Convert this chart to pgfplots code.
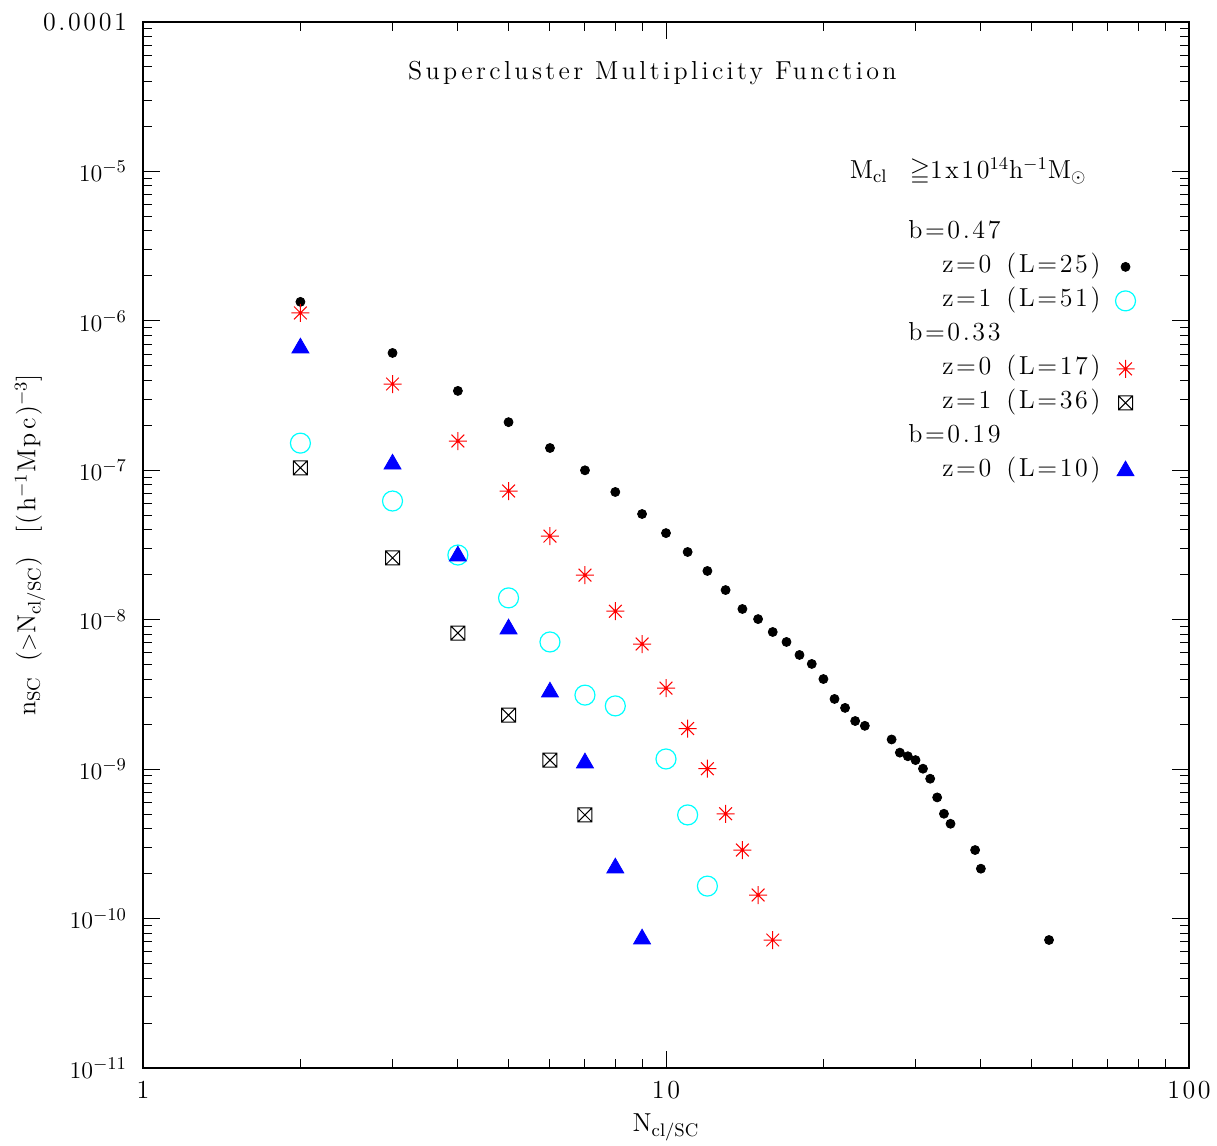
\documentclass[border=0pt]{standalone}
\usepackage{amssymb}
\usepackage{fontspec}
\usepackage{pgfplots}
\pgfplotsset{compat=1.18}
\newfontfamily\lmsp{lmroman12-regular.otf}[LetterSpace=10]
\newfontfamily\lmspt{lmroman12-regular.otf}[LetterSpace=13]
\definecolor{pcyan}{RGB}{0,255,255}
\definecolor{pred}{RGB}{255,0,0}
\definecolor{pblue}{RGB}{0,0,255}
\pgfdeclareplotmark{boxx}{%
  \pgfpathrectangle{\pgfpoint{-\pgfplotmarksize}{-\pgfplotmarksize}}{\pgfpoint{2\pgfplotmarksize}{2\pgfplotmarksize}}%
  \pgfpathmoveto{\pgfpoint{-\pgfplotmarksize}{-\pgfplotmarksize}}\pgfpathlineto{\pgfpoint{\pgfplotmarksize}{\pgfplotmarksize}}%
  \pgfpathmoveto{\pgfpoint{-\pgfplotmarksize}{\pgfplotmarksize}}\pgfpathlineto{\pgfpoint{\pgfplotmarksize}{-\pgfplotmarksize}}%
  \pgfusepathqstroke}
\pgfdeclareplotmark{ast8}{%
  \pgfpathmoveto{\pgfpoint{0pt}{\pgfplotmarksize}}\pgfpathlineto{\pgfpoint{0pt}{-\pgfplotmarksize}}%
  \pgfpathmoveto{\pgfpoint{\pgfplotmarksize}{0pt}}\pgfpathlineto{\pgfpoint{-\pgfplotmarksize}{0pt}}%
  \pgfpathmoveto{\pgfpointpolar{45}{\pgfplotmarksize}}\pgfpathlineto{\pgfpointpolar{225}{\pgfplotmarksize}}%
  \pgfpathmoveto{\pgfpointpolar{135}{\pgfplotmarksize}}\pgfpathlineto{\pgfpointpolar{315}{\pgfplotmarksize}}%
  \pgfusepathqstroke}
\newcommand{\tf}{\fontsize{13}{16}\lmsp}
\newcommand{\zi}{\hspace*{17pt}}
\newcommand{\zs}{\ \hspace{2pt}}
\begin{document}
\begin{tikzpicture}
\begin{axis}[
  scale only axis, width=523pt, height=523pt,
  xmode=log, ymode=log,
  xmin=1, xmax=100, ymin=1e-11, ymax=1e-4,
  xtick={1,10,100}, xticklabels={1,10,100},
  ytick={1e-11,1e-10,1e-9,1e-8,1e-7,1e-6,1e-5,1e-4},
  yticklabels={$10^{-11}$,$10^{-10}$,$10^{-9}$,$10^{-8}$,$10^{-7}$,$10^{-6}$,$10^{-5}$,0.0001},
  axis line style={line width=1pt},
  tick style={line width=0.5pt, black},
  major tick length=8.5pt, minor tick length=4.5pt,
  font=\tf,
  yticklabel style={xshift=-4.5pt},
  xticklabel style={yshift=-3pt},
  xlabel={N$_{\mathrm{cl/SC}}$},
  ylabel={n$_{\mathrm{SC}}$\ \hspace{2pt}($>$N$_{\mathrm{cl/SC}}$)\ \hspace{6pt}[(h$^{-1}$Mpc)$^{-3}$]},
  xlabel style={at={(axis description cs:0.5,-0.057)}, anchor=center},
  ylabel style={at={(axis description cs:-0.108,0.5)}, anchor=center},
  legend plot pos=right,
  legend style={draw=none, fill=none, at={(rel axis cs:0.955,0.816)}, anchor=north east,
    cells={anchor=west}, font=\tf, row sep=3pt,
    nodes={inner sep=0pt, text height=10pt, text depth=4pt}},
]
\addlegendimage{empty legend}\addlegendentry{b=0.47}
\addplot[only marks, mark=*, mark size=2.25pt, black] coordinates {
(2,1.34e-6) (3,6.1e-7) (4,3.40e-7) (5,2.10e-7) (6,1.41e-7) (7,1.00e-7) (8,7.16e-8) (9,5.10e-8)
(10,3.80e-8) (11,2.84e-8) (12,2.12e-8) (13,1.58e-8) (14,1.18e-8) (15,1.01e-8) (16,8.28e-9)
(17,7.10e-9) (18,5.81e-9) (19,5.06e-9) (20,4.01e-9) (21,2.95e-9) (22,2.57e-9) (23,2.10e-9)
(24,1.95e-9) (27,1.58e-9) (28,1.29e-9) (29,1.22e-9) (30,1.15e-9) (31,1.007e-9) (32,8.63e-10)
(33,6.47e-10) (34,5.03e-10) (35,4.31e-10) (39,2.876e-10) (40,2.157e-10) (54,7.19e-11)};
\addlegendentry{\zi z=0\zs(L=25)\hspace*{4pt}}
\addplot[only marks, mark=o, mark size=5pt, pcyan, line width=0.6pt] coordinates {
(2,1.52e-7) (3,6.23e-8) (4,2.71e-8) (5,1.40e-8) (6,7.10e-9) (7,3.13e-9) (8,2.65e-9)
(10,1.17e-9) (11,4.94e-10) (12,1.65e-10)};
\addlegendentry{\zi z=1\zs(L=51)\hspace*{4pt}}
\addlegendimage{empty legend}\addlegendentry{b=0.33}
\addplot[only marks, mark=ast8, mark size=4.5pt, pred, line width=0.5pt] coordinates {
(2,1.13e-6) (3,3.78e-7) (4,1.57e-7) (5,7.27e-8) (6,3.63e-8) (7,1.99e-8) (8,1.14e-8)
(9,6.88e-9) (10,3.49e-9) (11,1.87e-9) (12,1.007e-9) (13,5.03e-10) (14,2.876e-10)
(15,1.438e-10) (16,7.19e-11)};
\addlegendentry{\zi z=0\zs(L=17)\hspace*{4pt}}
\addplot[only marks, mark=boxx, mark size=3.5pt, black, line width=0.5pt] coordinates {
(2,1.04e-7) (3,2.59e-8) (4,8.15e-9) (5,2.30e-9) (6,1.15e-9) (7,4.94e-10)};
\addlegendentry{\zi z=1\zs(L=36)\hspace*{4pt}}
\addlegendimage{empty legend}\addlegendentry{b=0.19}
\addplot[only marks, mark=triangle*, mark size=4.9pt, pblue] coordinates {
(2,6.58e-7) (3,1.10e-7) (4,2.67e-8) (5,8.67e-9) (6,3.28e-9) (7,1.10e-9) (8,2.18e-10) (9,7.30e-11)};
\addlegendentry{\zi z=0\zs(L=10)\hspace*{4pt}}
\node[anchor=center, font=\fontsize{13}{16}\lmspt] at (rel axis cs:0.487,0.951) {Supercluster Multiplicity Function};
\node[anchor=west] at (rel axis cs:0.669,0.857) {M$_{\mathrm{cl}}$\ \ $\geqq$1x10$^{14}$h$^{-1}$M$_\odot$};
\end{axis}
\pgfresetboundingbox
\path[use as bounding box] ([xshift=-71.5pt,yshift=-39pt]current axis.south west) rectangle ([xshift=14pt,yshift=11pt]current axis.north east);
\end{tikzpicture}
\end{document}
